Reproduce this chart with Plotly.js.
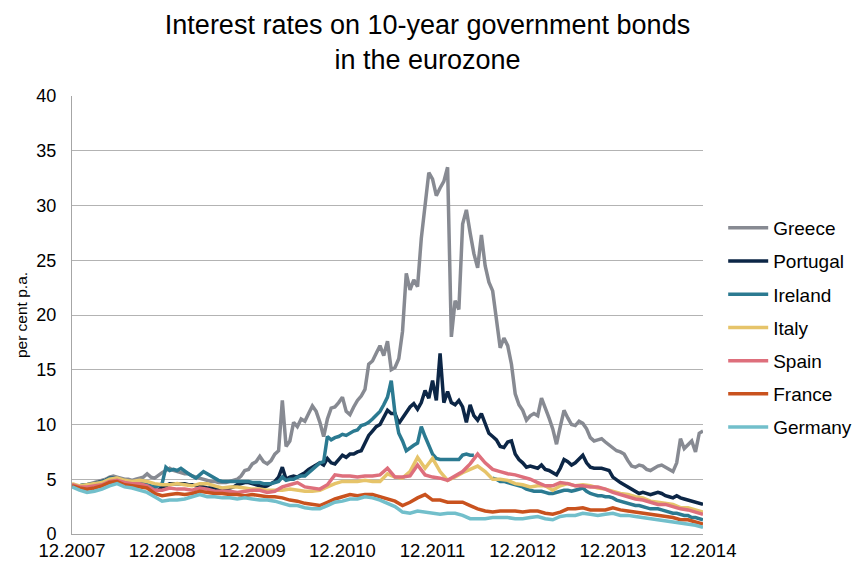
<!DOCTYPE html>
<html>
<head>
<meta charset="utf-8">
<script src="https://cdn.plot.ly/plotly-3.0.1.min.js"></script>
<style>html,body{margin:0;padding:0;background:#fff;}#chart{width:855px;height:567px;}</style>
</head>
<body>
<div id="chart"></div>
<script>
// x axis tick labels (one per December, months counted from 12.2007)
const tickLabels = ['12.2007','12.2008','12.2009','12.2010','12.2011','12.2012','12.2013','12.2014'];
const tickMonths = [0, 12, 24, 36, 48, 60, 72, 84];

// Half-monthly readings (per cent p.a.), from 12.2007 to 12.2014
const greece = [
4.5,4.4,4.4,4.5,4.5,4.6,4.7,4.8,4.9,5.0,5.2,5.3,5.2,5.1,5.0,5.0,4.9,5.0,5.1,5.2,5.5,5.2,5.1,5.4,
5.6,5.8,6.0,5.8,5.7,5.6,5.5,5.5,5.3,5.2,5.1,5.0,4.9,4.8,4.8,4.7,4.7,4.7,4.8,4.9,5.0,5.3,5.8,5.9,
6.4,6.6,7.1,6.6,6.4,6.7,7.3,7.6,12.2,8.0,8.5,10.2,9.8,10.5,10.3,11.0,11.7,11.2,10.2,8.9,10.5,11.5,11.6,12.0,
12.5,11.2,10.9,11.6,12.2,12.6,13.2,15.5,15.8,16.5,17.2,16.3,17.6,15.0,15.2,16.0,18.5,23.8,22.3,23.2,22.6,27.0,29.8,33.0,
32.4,30.9,31.6,32.2,33.5,18.0,21.3,20.5,28.3,29.6,27.5,25.6,24.3,27.3,24.5,23.0,22.2,19.5,17.0,17.9,17.2,15.5,12.8,11.8,
11.3,10.4,10.8,11.0,10.8,12.4,11.6,10.6,9.6,8.2,9.8,11.3,10.6,10.0,9.9,10.3,10.1,9.6,8.8,8.5,8.6,8.7,8.4,8.1,
7.9,7.6,7.5,7.3,6.7,6.2,6.1,6.3,6.2,5.9,5.8,6.0,6.2,6.3,6.1,5.9,5.7,6.5,8.7,7.8,8.2,8.5,7.5,9.2,
9.4];
const portugal = [
4.5,4.4,4.3,4.4,4.4,4.5,4.6,4.7,4.8,4.9,5.1,5.1,5.0,4.9,4.8,4.8,4.7,4.7,4.6,4.6,4.4,4.2,4.0,4.0,
4.3,4.4,4.6,4.6,4.6,4.6,4.6,4.5,4.5,4.4,4.4,4.3,4.2,4.2,4.2,4.1,4.1,4.1,4.2,4.3,4.5,4.6,4.7,4.7,
4.6,4.5,4.4,4.3,4.4,4.6,4.8,5.2,6.1,5.0,5.2,5.3,5.2,5.4,5.6,5.9,6.1,6.3,6.5,6.3,6.9,6.5,6.4,6.8,
7.2,7.0,7.3,7.3,7.5,7.6,8.4,9.0,9.4,9.8,10.0,10.6,11.3,11.0,11.0,10.1,10.6,11.2,11.6,11.9,11.4,12.0,13.1,12.4,
14.0,12.2,16.5,12.0,13.0,12.0,11.8,12.2,11.6,10.2,11.8,10.8,10.4,11.0,10.1,9.2,8.9,8.6,8.0,7.9,8.4,8.5,7.3,6.8,
6.5,6.1,6.2,6.1,6.0,6.3,5.9,5.8,5.6,5.4,6.0,6.8,6.6,6.3,6.5,6.8,7.2,6.5,6.1,6.0,6.0,6.0,5.9,5.8,
5.2,4.9,4.7,4.5,4.3,4.1,3.9,3.7,3.8,3.7,3.6,3.7,3.8,3.7,3.5,3.4,3.3,3.5,3.3,3.2,3.1,3.0,2.9,2.8,
2.7];
const ireland = [
4.5,4.4,4.4,4.5,4.5,4.6,4.6,4.7,4.8,4.9,5.1,5.1,5.0,4.9,4.8,4.8,4.7,4.7,4.6,4.6,4.5,4.4,4.3,4.4,
4.6,6.1,5.8,5.9,5.8,6.0,5.7,5.5,5.3,5.1,5.4,5.7,5.5,5.3,5.1,4.9,4.8,4.8,4.8,4.8,4.8,4.8,4.8,4.8,
4.7,4.7,4.7,4.6,4.6,4.6,4.7,4.8,5.2,4.9,5.0,5.0,5.2,5.3,5.3,5.6,5.9,6.1,6.5,6.6,8.9,8.6,8.8,8.9,
9.1,9.0,9.2,9.4,9.5,9.9,10.0,10.2,10.5,10.8,11.2,11.8,12.5,14.0,11.0,9.2,8.5,7.6,7.9,8.1,8.3,9.8,8.9,8.0,
7.3,6.9,6.8,6.8,6.8,6.8,6.8,6.8,7.2,7.3,7.2,7.2,null,null,null,null,5.1,5.0,4.8,4.8,4.7,4.6,4.5,4.4,
4.3,4.1,4.0,3.9,3.9,3.9,3.8,3.7,3.7,3.8,3.9,4.0,4.0,3.9,4.0,4.1,4.2,3.9,3.7,3.6,3.5,3.5,3.4,3.4,
3.3,3.1,3.0,2.9,2.8,2.7,2.6,2.6,2.5,2.4,2.3,2.3,2.3,2.2,2.1,2.0,1.9,1.9,1.8,1.7,1.7,1.5,1.5,1.4,
1.3];

// Monthly readings (per cent p.a.), from 12.2007 to 12.2014
const italy = [
4.6,4.4,4.5,4.6,4.7,5.0,5.1,4.9,4.8,4.9,4.8,4.6,
4.5,4.5,4.6,4.5,4.4,4.6,4.6,4.4,4.2,4.3,4.3,4.2,
4.1,4.1,4.0,4.0,4.0,4.1,4.0,3.9,3.9,4.0,4.3,4.6,
4.8,4.8,4.8,4.9,4.8,4.8,5.5,5.2,5.1,5.7,7.0,6.0,
6.9,5.7,4.9,5.2,5.6,5.9,6.2,5.7,5.0,5.0,4.9,4.6,
4.5,4.3,4.4,4.4,4.0,4.4,4.6,4.4,4.5,4.4,4.2,4.1,
3.9,3.7,3.6,3.4,3.3,3.0,2.9,2.8,2.7,2.4,2.4,2.2,
2.0];
const spain = [
4.5,4.3,4.3,4.4,4.5,4.8,4.9,4.7,4.6,4.6,4.4,4.0,
4.0,4.2,4.1,4.1,4.0,4.2,4.1,3.9,3.9,3.9,3.8,3.9,
4.0,4.0,3.8,3.9,4.3,4.5,4.7,4.3,4.2,4.1,4.5,5.4,
5.3,5.3,5.2,5.3,5.3,5.4,6.0,5.2,5.2,5.3,6.3,5.4,
5.2,5.1,4.9,5.3,5.7,6.4,7.3,6.5,5.9,5.7,5.5,5.4,
5.2,5.0,4.7,4.4,4.4,4.7,4.6,4.4,4.4,4.3,4.3,4.1,
3.8,3.6,3.4,3.2,3.1,2.9,2.7,2.7,2.5,2.3,2.2,2.0,
1.8];
const france = [
4.4,4.2,4.1,4.2,4.4,4.7,4.8,4.5,4.4,4.3,4.2,3.7,
3.5,3.6,3.7,3.6,3.7,3.9,3.8,3.7,3.7,3.6,3.6,3.5,
3.6,3.5,3.4,3.4,3.3,3.1,3.0,2.8,2.7,2.6,2.9,3.2,
3.4,3.6,3.5,3.6,3.6,3.4,3.2,3.0,2.6,2.9,3.3,3.6,
3.1,3.1,2.9,2.9,2.9,2.6,2.3,2.1,2.0,2.1,2.1,2.1,
2.0,2.1,2.1,1.9,1.8,2.0,2.3,2.3,2.4,2.2,2.2,2.2,
2.4,2.2,2.1,2.0,1.9,1.8,1.7,1.6,1.5,1.3,1.3,1.1,
0.9];
const germany = [
4.3,4.0,3.8,3.9,4.1,4.4,4.6,4.3,4.2,4.0,3.8,3.4,
3.0,3.1,3.1,3.2,3.4,3.6,3.4,3.4,3.3,3.3,3.2,3.3,
3.2,3.1,3.1,3.0,2.8,2.6,2.6,2.4,2.3,2.3,2.6,2.9,
3.0,3.2,3.2,3.4,3.3,3.1,2.8,2.5,2.0,1.9,2.1,2.0,
1.9,1.8,1.9,1.9,1.7,1.4,1.4,1.4,1.5,1.5,1.5,1.4,
1.4,1.5,1.6,1.4,1.3,1.6,1.7,1.7,1.9,1.8,1.7,1.8,
1.9,1.7,1.7,1.6,1.5,1.4,1.3,1.2,1.1,1.0,0.9,0.8,
0.6];

const seriesNames = ['Greece','Portugal','Ireland','Italy','Spain','France','Germany'];
const seriesColors = ['#878a92','#0c2646','#2b7a91','#e6c46a','#de6f7c','#c9521e','#72bfcb'];
const seriesData = [greece, portugal, ireland, italy, spain, france, germany];
const seriesStep = [0.5, 0.5, 0.5, 1, 1, 1, 1];

const traces = seriesData.map((vals, k) => ({
  type: 'scatter',
  mode: 'lines',
  name: seriesNames[k],
  x: vals.map((_, i) => i * seriesStep[k]),
  y: vals,
  connectgaps: false,
  line: {color: seriesColors[k], width: 3.5},
  legendgroup: 'g' + k,
  hoverinfo: 'skip'
}));

const font = 'Arial, "Liberation Sans", sans-serif';
const layout = {
  width: 855, height: 567,
  margin: {l: 72, r: 152, t: 96, b: 33, autoexpand: false},
  paper_bgcolor: '#ffffff', plot_bgcolor: '#ffffff',
  font: {family: font, color: '#000000', size: 18},
  title: {
    text: 'Interest rates on 10-year government bonds<br>in the eurozone',
    font: {family: font, size: 27, color: '#000000'},
    x: 0.5, xref: 'container', xanchor: 'center',
    y: 0.94, yref: 'container', yanchor: 'top'
  },
  xaxis: {
    range: [0, 84], automargin: false,
    tickmode: 'array', tickvals: tickMonths, ticktext: tickLabels,
    showgrid: false, zeroline: false,
    showline: true, linecolor: '#a6a6a6', linewidth: 1,
    ticks: '', tickfont: {family: font, size: 18.5, color: '#000'}
  },
  yaxis: {
    range: [0, 40], dtick: 5, tick0: 0, automargin: false,
    showgrid: true, gridcolor: '#b3b3b3', gridwidth: 1,
    zeroline: false, showline: true, linecolor: '#a6a6a6', linewidth: 1,
    ticks: '', ticklabelstandoff: 11,
    tickfont: {family: font, size: 18, color: '#000'},
    title: {text: 'per cent p.a.', font: {family: font, size: 15.5, color: '#000'}, standoff: 4}
  },
  showlegend: true,
  legend: {
    x: 1.032, xanchor: 'left', y: 0.742, yanchor: 'top',
    font: {family: font, size: 19, color: '#000'},
    itemwidth: 40,
    tracegroupgap: 5.5, bgcolor: 'rgba(0,0,0,0)'
  }
};

Plotly.newPlot('chart', traces, layout, {displayModeBar: false, staticPlot: true});
</script>
</body>
</html>
